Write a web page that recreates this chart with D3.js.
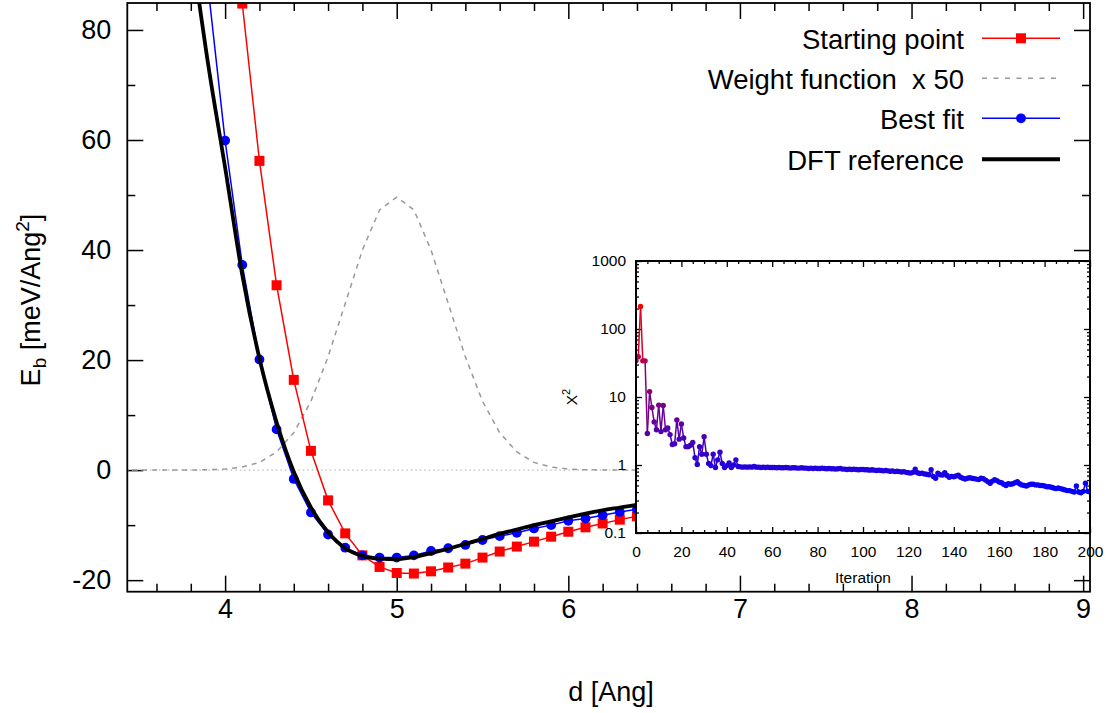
<!DOCTYPE html>
<html><head><meta charset="utf-8">
<script src="https://cdn.jsdelivr.net/npm/d3@7"></script>
<style>
body{margin:0;background:#fff}
svg{display:block}
text{font-family:"Liberation Sans",Arial,Helvetica,sans-serif;white-space:pre}
</style>
</head><body>
<svg id="c" width="1110" height="713"></svg>
<script>
// ---------------- DATA ----------------
// Starting point (red squares)
const dStart = [4.0,4.1,4.2,4.3,4.4,4.5,4.6,4.7,4.8,4.9,5.0,5.1,5.2,5.3,5.4,5.5,5.6,5.7,5.8,5.9,6.0,6.1,6.2,6.3,6.4,6.5];
const eStart = [125,84.8,56.2,33.6,16.4,3.5,-5.5,-11.5,-15.5,-17.6,-18.7,-18.8,-18.4,-17.7,-17.0,-15.9,-14.8,-13.9,-13.0,-12.1,-11.2,-10.4,-9.7,-9.0,-8.4,-7.9];
// Best fit (blue circles)
const dFit = [3.9,4.0,4.1,4.2,4.3,4.4,4.5,4.6,4.7,4.8,4.9,5.0,5.1,5.2,5.3,5.4,5.5,5.6,5.7,5.8,5.9,6.0,6.1,6.2,6.3,6.4,6.5];
const eFit = [88,59.9,37.3,20.1,7.4,-1.6,-7.7,-11.7,-14.1,-15.5,-15.9,-15.9,-15.5,-14.7,-14.2,-13.6,-12.7,-12.0,-11.4,-10.6,-10.0,-9.2,-8.8,-8.2,-7.6,-7.1,-6.6];
// DFT reference (black thick)
const dDFT = [3.8,3.9,4.0,4.1,4.2,4.3,4.4,4.5,4.6,4.7,4.8,4.9,5.0,5.1,5.2,5.3,5.4,5.5,5.6,5.7,5.8,5.9,6.0,6.1,6.2,6.3,6.4,6.5];
const eDFT = [96,74,55,35.5,20.3,8.7,-0.3,-6.8,-11.3,-14.2,-15.6,-16.1,-16.2,-15.8,-15.1,-14.3,-13.4,-12.5,-11.6,-10.8,-10.0,-9.3,-8.6,-7.9,-7.3,-6.8,-6.3,-5.9];
// Weight function x 50 (gray dashed)
const dWeight = [3.4,3.5,3.6,3.7,3.8,3.9,4.0,4.1,4.2,4.3,4.4,4.5,4.6,4.7,4.8,4.9,5.0,5.1,5.2,5.3,5.4,5.5,5.6,5.7,5.8,5.9,6.0,6.1,6.2,6.3,6.4,6.5];
const wWeight = [0,0,0,0,0.02,0.06,0.19,0.56,1.4,3.3,6.8,12.5,20.6,30.3,40.0,47.3,49.6,47.3,40.0,30.3,20.6,12.5,6.8,3.3,1.4,0.56,0.19,0.06,0.02,0,0,0];
// Inset: chi^2 per iteration (index = iteration 0..200)
const chi2 = [34,39,215,34,34,2.9,12,7.0,4.3,3.3,7.6,3.1,7.5,3.3,3.5,2.8,2.0,2.05,4.6,2.4,
4.0,2.5,1.86,1.86,1.95,2.15,1.28,1.02,1.86,1.44,
2.6,1.44,1.05,0.98,1.44,0.92,1.19,1.54,1.05,0.92,
0.98,1.07,0.92,1.0,1.19,0.95,0.94,0.93,0.94,0.93,
0.94,0.93,0.95,0.93,0.93,0.92,0.93,0.92,0.93,0.92,
0.92,0.92,0.91,0.92,0.91,0.91,0.92,0.91,0.90,0.91,
0.91,0.90,0.90,0.91,0.90,0.90,0.89,0.90,0.89,0.90,
0.89,0.89,0.90,0.89,0.88,0.89,0.88,0.88,0.87,0.88,
0.89,0.87,0.87,0.86,0.87,0.86,0.87,0.86,0.85,0.86,
0.86,0.85,0.85,0.84,0.85,0.84,0.83,0.84,0.83,0.82,
0.83,0.82,0.81,0.82,0.80,0.81,0.80,0.79,0.80,0.78,
0.77,0.76,0.78,0.87,0.77,0.75,0.76,0.74,0.73,0.72,
0.85,0.68,0.64,0.76,0.72,0.71,0.77,0.70,0.66,0.68,
0.67,0.69,0.71,0.66,0.64,0.62,0.64,0.65,0.64,0.63,
0.62,0.61,0.64,0.63,0.60,0.57,0.54,0.58,0.61,0.59,
0.56,0.55,0.52,0.50,0.53,0.52,0.53,0.55,0.57,0.53,
0.51,0.50,0.49,0.51,0.52,0.52,0.51,0.51,0.50,0.50,
0.49,0.48,0.48,0.47,0.46,0.45,0.46,0.45,0.44,0.43,
0.42,0.42,0.41,0.40,0.49,0.40,0.39,0.41,0.54,0.41,
0.40];
// Tick labels
const xTicks = [4,5,6,7,8,9];
const yTicks = [-20,0,20,40,60,80];
const xiTicks = [0,20,40,60,80,100,120,140,160,180,200];
const yiTicks = [0.1,1,10,100,1000];
const legendLabels = ["Starting point","Weight function  x 50","Best fit","DFT reference"];

// ---------------- LAYOUT ----------------
const FF = '"Liberation Sans",Arial,Helvetica,sans-serif';
const P = {l:127.3, r:1090, t:3, b:591.7};
const I = {l:636, r:1090, t:261, b:533};
const svg = d3.select('#c');

const x = d3.scaleLinear().domain([3.43,9.04]).range([P.l,P.r]);
const y = d3.scaleLinear().domain([-22.1,84.9]).range([P.b,P.t]);

svg.append('rect').attr('width',1110).attr('height',713).attr('fill','#fff');

const defs = svg.append('defs');
defs.append('clipPath').attr('id','cm').append('rect')
  .attr('x',P.l).attr('y',P.t).attr('width',P.r-P.l).attr('height',P.b-P.t);
defs.append('clipPath').attr('id','ci').append('rect')
  .attr('x',I.l).attr('y',I.t).attr('width',I.r-I.l).attr('height',I.b-I.t);

// ---- main ticks ----
const xMinor = d3.range(3.6,9.05,0.2).map(v=>+v.toFixed(2)).filter(v=>Math.abs(v-Math.round(v))>1e-6);
const yMinor = [-10,10,30,50,70];
function styleAxis(g, fs){
  g.select('.domain').remove();
  g.selectAll('line').attr('stroke','#000').attr('stroke-width',1.5);
  g.attr('font-family',FF).attr('font-size',fs);
  g.selectAll('text').attr('fill','#000');
}
const fmt = d => String(d);
const mainAx = svg.append('g');
mainAx.append('g').attr('transform',`translate(0,${P.b})`)
  .call(d3.axisBottom(x).tickValues(xTicks).tickSize(-16).tickPadding(7).tickFormat(fmt)).call(g=>styleAxis(g,27));
mainAx.append('g').attr('transform',`translate(0,${P.b})`)
  .call(d3.axisBottom(x).tickValues(xMinor).tickSize(-8).tickFormat('')).call(g=>styleAxis(g,27));
mainAx.append('g').attr('transform',`translate(0,${P.t})`)
  .call(d3.axisTop(x).tickValues(xTicks).tickSize(-16).tickFormat('')).call(g=>styleAxis(g,27));
mainAx.append('g').attr('transform',`translate(0,${P.t})`)
  .call(d3.axisTop(x).tickValues(xMinor).tickSize(-8).tickFormat('')).call(g=>styleAxis(g,27));
mainAx.append('g').attr('transform',`translate(${P.l},0)`)
  .call(d3.axisLeft(y).tickValues(yTicks).tickSize(-16).tickPadding(16).tickFormat(fmt)).call(g=>styleAxis(g,27));
mainAx.append('g').attr('transform',`translate(${P.l},0)`)
  .call(d3.axisLeft(y).tickValues(yMinor).tickSize(-8).tickFormat('')).call(g=>styleAxis(g,27));
mainAx.append('g').attr('transform',`translate(${P.r},0)`)
  .call(d3.axisRight(y).tickValues(yTicks).tickSize(-16).tickFormat('')).call(g=>styleAxis(g,27));
mainAx.append('g').attr('transform',`translate(${P.r},0)`)
  .call(d3.axisRight(y).tickValues(yMinor).tickSize(-8).tickFormat('')).call(g=>styleAxis(g,27));

// ---- main curves ----
const gm = svg.append('g').attr('clip-path','url(#cm)');
// zero axis
gm.append('line').attr('x1',P.l).attr('x2',P.r).attr('y1',y(0)).attr('y2',y(0))
  .attr('stroke','#aaa').attr('stroke-width',1).attr('stroke-dasharray','1.5,3');

const lineXY = d3.line().x(d=>x(d[0])).y(d=>y(d[1]));
const wData = d3.zip(dWeight,wWeight);
gm.append('path').attr('d',lineXY(wData)).attr('fill','none')
  .attr('stroke','#999').attr('stroke-width',1.5).attr('stroke-dasharray','5,5');

const sData = d3.zip(dStart,eStart);
gm.append('path').attr('d',lineXY(sData)).attr('fill','none').attr('stroke','#ff0000').attr('stroke-width',1.5);
gm.selectAll('rect.sq').data(sData).join('rect').attr('class','sq')
  .attr('x',d=>x(d[0])-5).attr('y',d=>y(d[1])-5).attr('width',10).attr('height',10).attr('fill','#ff0000');

const fData = d3.zip(dFit,eFit);
gm.append('path').attr('d',lineXY(fData)).attr('fill','none').attr('stroke','#0000ff').attr('stroke-width',1.5);
gm.selectAll('circle.bf').data(fData).join('circle').attr('class','bf')
  .attr('cx',d=>x(d[0])).attr('cy',d=>y(d[1])).attr('r',4.9).attr('fill','#0000ff');

const rData = d3.zip(dDFT,eDFT);
gm.append('path').attr('d',d3.line().curve(d3.curveMonotoneX).x(d=>x(d[0])).y(d=>y(d[1]))(rData))
  .attr('fill','none').attr('stroke','#000').attr('stroke-width',3.8);

// main border
svg.append('rect').attr('x',P.l).attr('y',P.t).attr('width',P.r-P.l).attr('height',P.b-P.t)
  .attr('fill','none').attr('stroke','#000').attr('stroke-width',1.8);

// axis labels
svg.append('text').attr('x',611).attr('y',701).attr('text-anchor','middle')
  .attr('font-size',27).attr('font-family',FF).text('d [Ang]');
const yl = svg.append('text').attr('transform','translate(40,300) rotate(-90)')
  .attr('text-anchor','middle').attr('font-size',27).attr('font-family',FF);
yl.append('tspan').text('E');
yl.append('tspan').attr('font-size',19).attr('dy',6).text('b');
yl.append('tspan').attr('dy',-6).text(' [meV/Ang');
yl.append('tspan').attr('font-size',19).attr('dy',-11).text('2');
yl.append('tspan').attr('dy',11).text(']');

// legend
const legY = [38.3,78.3,118.3,159.3];
const lg = svg.append('g').attr('font-family',FF).attr('font-size',27.5);
lg.selectAll('text').data(legendLabels).join('text')
  .attr('x',964).attr('y',(d,i)=>legY[i]+10.5).attr('text-anchor','end')
  .attr('xml:space','preserve').style('white-space','pre').text(d=>d);
lg.append('line').attr('x1',982).attr('x2',1060).attr('y1',legY[0]).attr('y2',legY[0]).attr('stroke','#ff0000').attr('stroke-width',1.5);
lg.append('rect').attr('x',1021-5).attr('y',legY[0]-5).attr('width',10).attr('height',10).attr('fill','#ff0000');
lg.append('line').attr('x1',982).attr('x2',1060).attr('y1',legY[1]).attr('y2',legY[1]).attr('stroke','#999').attr('stroke-width',1.5).attr('stroke-dasharray','5,6.5');
lg.append('line').attr('x1',982).attr('x2',1060).attr('y1',legY[2]).attr('y2',legY[2]).attr('stroke','#0000ff').attr('stroke-width',1.5);
lg.append('circle').attr('cx',1021).attr('cy',legY[2]).attr('r',4.9).attr('fill','#0000ff');
lg.append('line').attr('x1',982).attr('x2',1060).attr('y1',legY[3]).attr('y2',legY[3]).attr('stroke','#000').attr('stroke-width',4);

// ---------------- INSET ----------------
const xi = d3.scaleLinear().domain([0,200]).range([I.l,I.r]);
const yi = d3.scaleLog().domain([0.1,1000]).range([I.b,I.t]);
svg.append('rect').attr('x',I.l).attr('y',I.t).attr('width',I.r-I.l).attr('height',I.b-I.t).attr('fill','#fff');

const xiMinor = d3.range(5,200,5).filter(v=>v%20!==0);
const yiMinor = [];
[0.1,1,10,100].forEach(dec=>{ for(let k=2;k<=9;k++) yiMinor.push(+(k*dec).toPrecision(3)); });

function styleI(g){
  g.select('.domain').remove();
  g.selectAll('line').attr('stroke','#000').attr('stroke-width',1.3);
  g.attr('font-family',FF).attr('font-size',15.5);
  g.selectAll('text').attr('fill','#000');
}
const ia = svg.append('g');
ia.append('g').attr('transform',`translate(0,${I.b})`)
  .call(d3.axisBottom(xi).tickValues(xiTicks).tickSize(-6).tickPadding(13).tickFormat(fmt)).call(styleI);
ia.append('g').attr('transform',`translate(0,${I.b})`)
  .call(d3.axisBottom(xi).tickValues(xiMinor).tickSize(-3).tickFormat('')).call(styleI);
ia.append('g').attr('transform',`translate(0,${I.t})`)
  .call(d3.axisTop(xi).tickValues(xiTicks).tickSize(-6).tickFormat('')).call(styleI);
ia.append('g').attr('transform',`translate(0,${I.t})`)
  .call(d3.axisTop(xi).tickValues(xiMinor).tickSize(-3).tickFormat('')).call(styleI);
ia.append('g').attr('transform',`translate(${I.l},0)`)
  .call(d3.axisLeft(yi).tickValues(yiTicks).tickSize(-6).tickPadding(10).tickFormat(fmt)).call(styleI);
ia.append('g').attr('transform',`translate(${I.l},0)`)
  .call(d3.axisLeft(yi).tickValues(yiMinor).tickSize(-3).tickFormat('')).call(styleI);
ia.append('g').attr('transform',`translate(${I.r},0)`)
  .call(d3.axisRight(yi).tickValues(yiTicks).tickSize(-6).tickFormat('')).call(styleI);
ia.append('g').attr('transform',`translate(${I.r},0)`)
  .call(d3.axisRight(yi).tickValues(yiMinor).tickSize(-3).tickFormat('')).call(styleI);

const col = d3.scaleLog().domain([d3.min(chi2), d3.max(chi2)]).range(['#0000ff','#ff0000']).interpolate(d3.interpolateRgb);
const gi = svg.append('g').attr('clip-path','url(#ci)');
const segs = d3.pairs(chi2.map((v,i)=>[i,v]));
gi.selectAll('line.seg').data(segs).join('line').attr('class','seg')
  .attr('x1',d=>xi(d[0][0])).attr('y1',d=>yi(d[0][1]))
  .attr('x2',d=>xi(d[1][0])).attr('y2',d=>yi(d[1][1]))
  .attr('stroke',d=>col(Math.sqrt(d[0][1]*d[1][1]))).attr('stroke-width',1.5);
gi.selectAll('circle.pt').data(chi2).join('circle').attr('class','pt')
  .attr('cx',(d,i)=>xi(i)).attr('cy',d=>yi(d)).attr('r',2.7).attr('fill',d=>col(d));

svg.append('rect').attr('x',I.l).attr('y',I.t).attr('width',I.r-I.l).attr('height',I.b-I.t)
  .attr('fill','none').attr('stroke','#000').attr('stroke-width',2);

svg.append('text').attr('x',(I.l+I.r)/2).attr('y',583).attr('text-anchor','middle')
  .attr('font-size',15.5).attr('font-family',FF).text('Iteration');
const yil = svg.append('text').attr('transform',`translate(577,${(I.t+I.b)/2}) rotate(-90)`)
  .attr('text-anchor','middle').attr('font-size',15.5).attr('font-family',FF);
yil.append('tspan').text('X');
yil.append('tspan').attr('font-size',11).attr('dy',-7).text('2');
</script>
</body></html>
